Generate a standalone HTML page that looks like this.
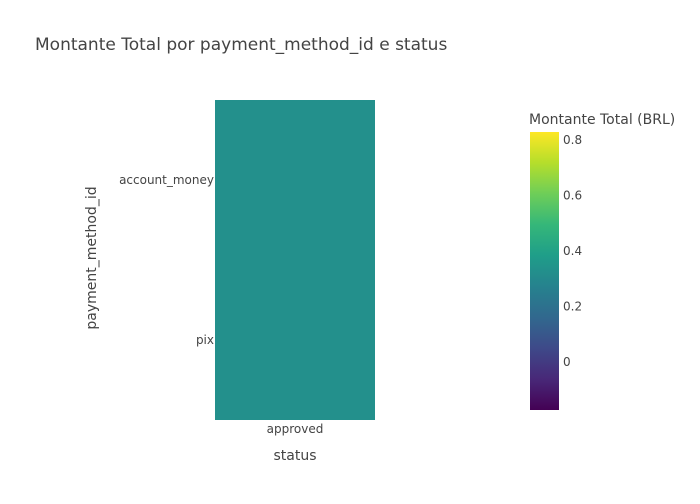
<!DOCTYPE html>
<html><head><meta charset="utf-8"><style>
body{margin:0;background:#fff;font-family:"DejaVu Sans","Liberation Sans",sans-serif;}
svg text{font-family:"DejaVu Sans","Liberation Sans",sans-serif;}
</style></head><body>
<svg id="chart" width="700" height="500" xmlns="http://www.w3.org/2000/svg">
<defs>
<linearGradient id="viridis" x1="0" y1="1" x2="0" y2="0">
<stop offset="0" stop-color="#440154"/><stop offset="0.111" stop-color="#482878"/>
<stop offset="0.222" stop-color="#3e4989"/><stop offset="0.333" stop-color="#31688e"/>
<stop offset="0.444" stop-color="#26828e"/><stop offset="0.556" stop-color="#1f9e89"/>
<stop offset="0.667" stop-color="#35b779"/><stop offset="0.778" stop-color="#6ece58"/>
<stop offset="0.889" stop-color="#b5de2b"/><stop offset="1" stop-color="#fde725"/>
</linearGradient>
</defs>
<text x="35" y="50" font-size="17" fill="#444">Montante Total por payment_method_id e status</text>
<g id="cells"></g>
<g id="yticks"></g>
<g id="xticks"></g>
<text x="295" y="460" font-size="14" fill="#444" text-anchor="middle">status</text>
<text transform="translate(96,258) rotate(-90)" font-size="14" fill="#444" text-anchor="middle">payment_method_id</text>
<text x="529" y="124" font-size="14" fill="#444">Montante Total (BRL)</text>
<rect x="530" y="132" width="29" height="278" fill="url(#viridis)"/>
<g id="cbticks"></g>
</svg>
<script>
const categoriesX = ["approved"];
const categoriesY = ["account_money","pix"];
const values = [[0.328],[0.328]];
const cbTicks = [0,0.2,0.4,0.6,0.8];
const cbMin = -0.173, cbMax = 0.829;

const NS="http://www.w3.org/2000/svg";
const px0=215, px1=375, py0=100, py1=420;
const cw=(px1-px0)/categoriesX.length, ch=(py1-py0)/categoriesY.length;
const xPos=i=>px0+cw*i, yPos=j=>py0+ch*j;
const cbY=v=>410-(v-cbMin)/(cbMax-cbMin)*278;
const stops=["#440154","#482878","#3e4989","#31688e","#26828e","#1f9e89","#35b779","#6ece58","#b5de2b","#fde725"];
function hex(h){return [1,3,5].map(i=>parseInt(h.substr(i,2),16));}
function color(v){let t=Math.max(0,Math.min(1,(v-cbMin)/(cbMax-cbMin)))*(stops.length-1);
 const i=Math.min(Math.floor(t),stops.length-2),f=t-i,a=hex(stops[i]),b=hex(stops[i+1]);
 return "rgb("+a.map((x,k)=>Math.round(x+(b[k]-x)*f)).join(",")+")";}
function mk(tag,attrs,parent,txt){const e=document.createElementNS(NS,tag);for(const k in attrs)e.setAttribute(k,attrs[k]);if(txt!==undefined)e.textContent=txt;document.getElementById(parent).appendChild(e);return e;}
values.forEach((row,j)=>row.forEach((v,i)=>{
 const r=mk("rect",{x:xPos(i),y:yPos(j),width:cw,height:ch,fill:color(v)},"cells");
 
 
}));
categoriesY.forEach((c,j)=>{
 const t=mk("text",{x:px0-1,y:yPos(j)+ch/2+4,"font-size":12,fill:"#444","text-anchor":"end"},"yticks",c);
 
 
});
categoriesX.forEach((c,i)=>{
 const t=mk("text",{x:xPos(i)+cw/2,y:py1+13,"font-size":12,fill:"#444","text-anchor":"middle"},"xticks",c);
 
 
});
cbTicks.forEach(v=>{
 const t=mk("text",{x:563,y:cbY(v)+4,"font-size":12,fill:"#444"},"cbticks",String(v));
 
 
});
</script>
</body></html>
